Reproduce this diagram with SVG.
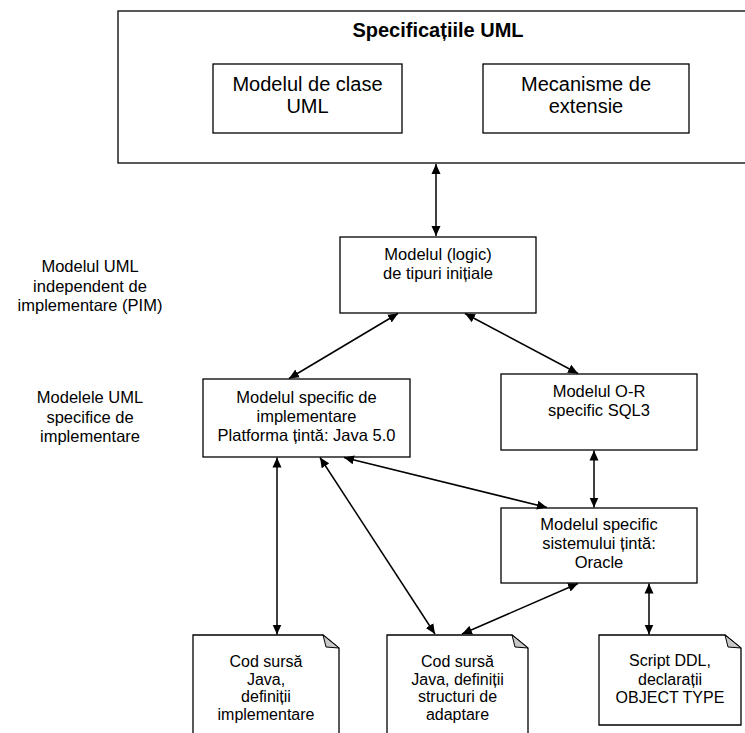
<svg xmlns="http://www.w3.org/2000/svg" width="745" height="733" viewBox="0 0 745 733">
<defs>
<style>
.box{fill:#fff;stroke:#000;stroke-width:1.3}
.fold{fill:#c8c8c8;stroke:#000;stroke-width:1}
.t{font-family:"Liberation Sans",Arial,sans-serif;font-size:16.5px;fill:#000;text-anchor:middle}
.tb{font-family:"Liberation Sans",Arial,sans-serif;font-size:20px;font-weight:bold;fill:#000;text-anchor:middle}
.tl{font-family:"Liberation Sans",Arial,sans-serif;font-size:20px;fill:#000;text-anchor:middle}
.td{font-family:"Liberation Sans",Arial,sans-serif;font-size:16px;fill:#000;text-anchor:middle}
.c{stroke:#000;stroke-width:1.5;fill:none;marker-start:url(#ah);marker-end:url(#ah)}
</style>
<marker id="ah" markerUnits="userSpaceOnUse" markerWidth="10" markerHeight="10" refX="10" refY="4.5" orient="auto-start-reverse" viewBox="0 0 10 9">
<path d="M0,0 L10,4.5 L0,9 z" fill="#000"/>
</marker>
</defs>
<rect width="745" height="733" fill="#fff"/>

<g id="spec">
<rect class="box" x="118" y="11" width="640" height="152"/>
<text class="tb" x="438" y="37">Specificațiile UML</text>
</g>
<g id="clase">
<rect class="box" x="213" y="64" width="189" height="69"/>
<text class="tl" x="307.5" y="91">Modelul de clase</text>
<text class="tl" x="307.5" y="113">UML</text>
</g>
<g id="extensie">
<rect class="box" x="483" y="64" width="206" height="69"/>
<text class="tl" x="586" y="91">Mecanisme de</text>
<text class="tl" x="586" y="113">extensie</text>
</g>

<g id="label-pim">
<text class="t" x="90" y="272">Modelul UML</text>
<text class="t" x="90" y="291.5">independent de</text>
<text class="t" x="90" y="311">implementare (PIM)</text>
</g>
<g id="label-psm">
<text class="t" x="90" y="403">Modelele UML</text>
<text class="t" x="90" y="422.5">specifice de</text>
<text class="t" x="90" y="442">implementare</text>
</g>

<g id="logic">
<rect class="box" x="340" y="237" width="196" height="76"/>
<text class="t" x="438" y="260">Modelul (logic)</text>
<text class="t" x="438" y="278.5">de tipuri inițiale</text>
</g>
<g id="java">
<rect class="box" x="203" y="379" width="207" height="78"/>
<text class="t" x="306.5" y="403">Modelul specific de</text>
<text class="t" x="306.5" y="422">implementare</text>
<text class="t" x="306.5" y="441">Platforma țintă: Java 5.0</text>
</g>
<g id="or">
<rect class="box" x="501" y="374" width="196" height="76"/>
<text class="t" x="599" y="397">Modelul O-R</text>
<text class="t" x="599" y="416">specific SQL3</text>
</g>
<g id="oracle">
<rect class="box" x="501" y="508" width="196" height="75"/>
<text class="t" x="599" y="530">Modelul specific</text>
<text class="t" x="599" y="549">sistemului țintă:</text>
<text class="t" x="599" y="568">Oracle</text>
</g>

<g id="doc1">
<path class="box" d="M193,745 L193,635 L323,635 L339,648 L339,745"/>
<path class="fold" d="M323,635 L339,648 L326,647 z"/>
<text class="td" x="266" y="667">Cod sursă</text>
<text class="td" x="266" y="684.5">Java,</text>
<text class="td" x="266" y="702">definiții</text>
<text class="td" x="266" y="719.5">implementare</text>
</g>
<g id="doc2">
<path class="box" d="M387,745 L387,635 L512,635 L528,648 L528,745"/>
<path class="fold" d="M512,635 L528,648 L515,647 z"/>
<text class="td" x="457.5" y="667">Cod sursă</text>
<text class="td" x="457.5" y="684.5">Java, definiții</text>
<text class="td" x="457.5" y="702">structuri de</text>
<text class="td" x="457.5" y="719.5">adaptare</text>
</g>
<g id="doc3">
<path class="box" d="M599,725 L599,635 L725,635 L741,648 L741,725 z"/>
<path class="fold" d="M725,635 L741,648 L728,647 z"/>
<text class="td" x="670" y="666">Script DDL,</text>
<text class="td" x="670" y="685">declarații</text>
<text class="td" x="670" y="703">OBJECT TYPE</text>
</g>

<g id="connectors">
<line class="c" x1="436" y1="164" x2="436" y2="236"/>
<line class="c" x1="398" y1="313.5" x2="289" y2="378.5"/>
<line class="c" x1="465" y1="313.5" x2="578" y2="373.5"/>
<line class="c" x1="594" y1="450.5" x2="594" y2="507.5"/>
<line class="c" x1="344" y1="457.5" x2="547" y2="507.5"/>
<line class="c" x1="277" y1="457.5" x2="277" y2="634.5"/>
<line class="c" x1="320" y1="457.5" x2="435" y2="634"/>
<line class="c" x1="462" y1="634" x2="578" y2="583.5"/>
<line class="c" x1="649" y1="583.5" x2="649" y2="634.5"/>
</g>
</svg>
